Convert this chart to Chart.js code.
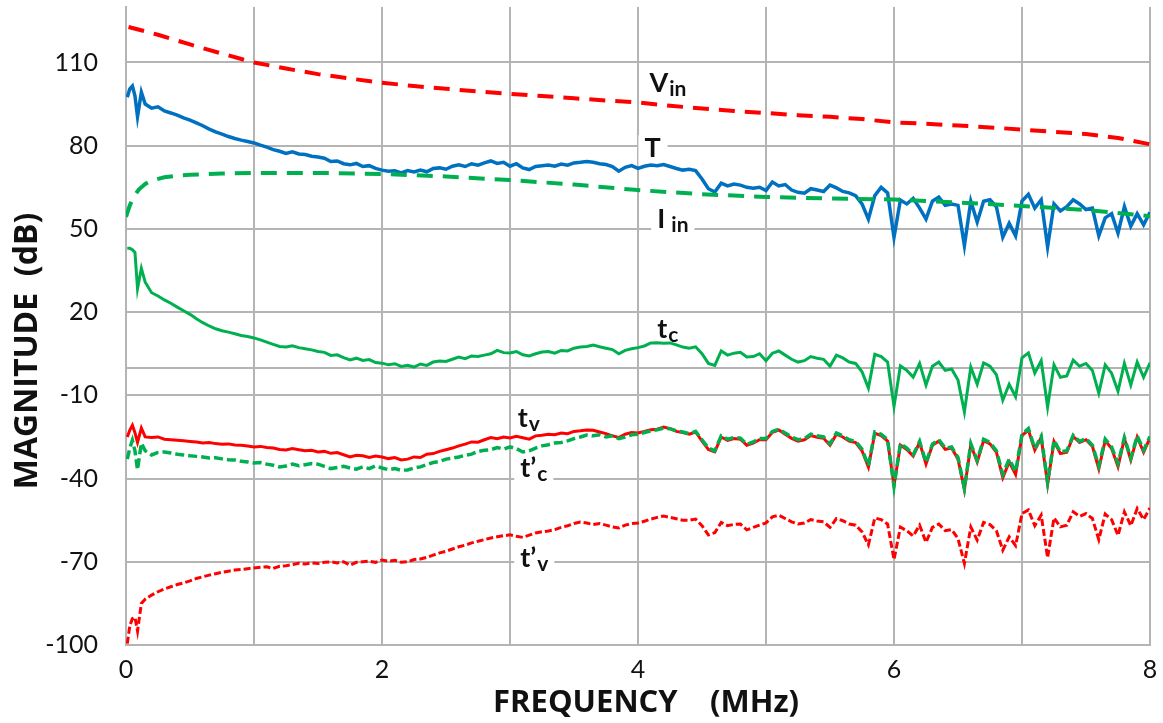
<!DOCTYPE html>
<html>
<head>
<meta charset="utf-8">
<script src="https://cdn.jsdelivr.net/npm/chart.js@4.4.1/dist/chart.umd.min.js"></script>
<style>
  html, body { margin: 0; padding: 0; background: #fff; }
  #wrap { width: 1163px; height: 723px; }
</style>
</head>
<body>
<div id="wrap"><canvas id="chart"></canvas></div>
<script>
/* Transfer-function magnitudes vs frequency (MHz / dB) */

// frequency grid (MHz) for the measured traces
const freq = [
  0.01, 0.03, 0.05, 0.07, 0.09, 0.12, 0.15,
  0.20, 0.25, 0.30, 0.35, 0.40, 0.45, 0.50, 0.55, 0.60, 0.65, 0.70, 0.75, 0.80, 0.85, 0.90, 0.95,
  1.00, 1.05, 1.10, 1.15, 1.20, 1.25, 1.30, 1.35, 1.40, 1.45, 1.50, 1.55, 1.60, 1.65, 1.70, 1.75, 1.80, 1.85, 1.90, 1.95,
  2.00, 2.05, 2.10, 2.15, 2.20, 2.25, 2.30, 2.35, 2.40, 2.45, 2.50, 2.55, 2.60, 2.65, 2.70, 2.75, 2.80, 2.85, 2.90, 2.95,
  3.00, 3.05, 3.10, 3.15, 3.20, 3.25, 3.30, 3.35, 3.40, 3.45, 3.50, 3.55, 3.60, 3.65, 3.70, 3.75, 3.80, 3.85, 3.90, 3.95,
  4.00, 4.05, 4.10, 4.15, 4.20, 4.25, 4.30, 4.35, 4.40, 4.45, 4.50, 4.55, 4.60, 4.65, 4.70, 4.75, 4.80, 4.85, 4.90, 4.95,
  5.00, 5.05, 5.10, 5.15, 5.20, 5.25, 5.30, 5.35, 5.40, 5.45, 5.50, 5.55, 5.60, 5.65, 5.70, 5.75, 5.80, 5.85, 5.90, 5.95,
  6.00, 6.05, 6.10, 6.15, 6.20, 6.25, 6.30, 6.35, 6.40, 6.45, 6.50, 6.55, 6.60, 6.65, 6.70, 6.75, 6.80, 6.85, 6.90, 6.95,
  7.00, 7.05, 7.10, 7.15, 7.20, 7.25, 7.30, 7.35, 7.40, 7.45, 7.50, 7.55, 7.60, 7.65, 7.70, 7.75, 7.80, 7.85, 7.90, 7.95,
  8.00
];

const T = [
  97.5, 100.5, 101.5, 98.0, 90.5, 99.3, 95.0,
  93.5, 94.0, 92.5, 91.8, 91.0, 90.0, 89.2, 88.2, 87.2, 86.0, 85.0, 84.2, 83.3, 82.6, 82.0, 81.5,
  81.0, 80.2, 79.5, 78.6, 78.0, 77.2, 77.8, 77.0, 76.8, 76.2, 75.9, 75.5, 74.3, 74.5, 73.5, 73.1, 73.6, 72.5, 72.8, 71.8,
  71.2, 70.8, 71.0, 70.2, 71.0, 70.5, 71.2, 70.6, 71.8, 72.0, 71.5, 72.6, 73.1, 72.5, 73.5, 73.0, 73.8, 74.5, 73.6, 74.0,
  72.6, 73.5, 72.0, 71.4, 72.5, 72.8, 73.0, 72.6, 73.4, 73.0, 73.8, 74.0, 74.3, 74.0, 73.5, 73.2, 72.5, 70.8, 72.2, 72.8,
  71.8, 72.6, 73.0, 72.8, 73.2, 72.5, 71.8, 71.2, 71.5, 71.0, 68.0, 64.5, 63.3, 66.5, 65.5, 66.2, 65.8, 65.0, 64.7, 65.0,
  63.8, 66.9, 65.5, 66.0, 64.0, 63.2, 62.9, 64.5, 64.0, 63.5, 65.8, 64.8, 63.5, 63.0, 62.0, 59.0, 53.5, 62.0, 65.0, 63.0,
  47.0, 60.4, 59.0, 61.0, 57.5, 53.5, 60.0, 61.5, 58.5, 59.0, 58.5, 44.0, 60.0, 52.5, 60.0, 60.5, 58.0, 47.0, 52.0, 47.5,
  60.0, 62.5, 57.5, 60.5, 43.5, 59.0, 56.5, 58.0, 60.5, 59.0, 57.0, 57.5, 47.5, 54.0, 55.5, 48.5, 58.0, 51.0, 55.5, 51.5,
  56.0
];

const tc = [
  43.0, 43.0, 42.5, 41.5, 28.5, 35.8, 30.8,
  27.0, 25.8, 24.4, 23.2, 21.8, 20.5, 19.2, 17.6, 16.2, 15.0, 14.0, 13.3, 12.8, 12.2, 11.6, 11.2,
  10.7, 10.0, 9.2, 8.4, 7.6, 7.4, 7.9, 7.2, 6.8, 6.4, 5.8, 5.5, 4.4, 4.6, 3.6, 2.8, 3.4, 2.6, 2.9, 1.8,
  1.6, 1.0, 1.4, 0.4, 0.8, 0.2, 1.3, 0.8, 2.0, 2.4, 2.2, 3.0, 3.8, 3.2, 4.2, 4.0, 4.5, 5.0, 6.2, 5.4,
  5.3, 5.8, 4.6, 4.2, 5.0, 5.6, 5.8, 5.2, 6.2, 6.0, 7.0, 7.4, 7.6, 8.1, 7.5, 7.0, 6.5, 5.0, 6.2, 6.8,
  7.2, 7.8, 8.9, 9.0, 8.8, 8.9, 8.2, 7.4, 7.0, 7.5, 5.0, 1.5, 0.8, 6.0, 4.5, 5.2, 5.5, 3.8, 4.0, 5.0,
  2.5, 5.2, 6.0, 4.5, 3.0, 2.0, 2.5, 4.0, 3.4, 3.0, 0.5, 4.5, 3.5, 2.0, 1.5, -1.5, -7.4, 4.8, 4.0, 2.0,
  -14.0, 0.6, -1.0, -3.4, 1.5, -6.3, 0.5, 2.0, -1.0, -0.5, -4.5, -16.0, 0.2, -6.0, 1.7, 0.5, -2.5, -11.7, -6.0, -10.5,
  3.5, 5.3, -2.0, 2.5, -14.2, 1.0, -3.5, -3.0, 2.7, 0.5, 1.5, -1.0, -9.2, 1.0, -2.0, -8.5, 1.5, -6.3, 2.0, -3.5,
  1.7
];

const tv = [
  -25.0, -22.5, -20.8, -23.5, -27.0, -21.8, -25.0,
  -25.2, -25.0, -25.8, -26.0, -26.2, -26.4, -26.6, -26.8, -27.2, -27.0, -27.4, -27.6, -27.5, -27.9, -28.0, -28.3,
  -28.6, -28.4, -28.8, -29.0, -29.5, -29.7, -29.2, -29.6, -30.0, -29.8, -30.4, -30.2, -30.9, -30.6, -31.4, -32.2, -31.6, -31.8, -32.4, -31.9,
  -32.2, -32.8, -32.4, -33.3, -33.0, -32.2, -32.4, -31.2, -31.0, -30.2, -29.6, -29.0, -28.2, -27.6, -26.8, -26.9, -26.0, -25.2, -25.6, -25.0,
  -25.4, -24.8, -25.3, -25.8, -24.6, -24.4, -24.0, -24.2, -23.6, -23.8, -23.0, -22.8, -22.5, -22.6, -23.2, -23.8, -24.6, -25.2, -24.0, -23.4,
  -23.6, -23.0, -22.4, -22.2, -21.4, -22.0, -23.0, -23.4, -24.0, -23.2, -26.5, -29.5, -30.4, -25.0, -26.2, -25.6, -25.8, -28.0, -27.2, -26.0,
  -26.0, -23.3, -22.5, -24.0, -25.5, -26.5, -26.0, -24.5, -25.1, -25.5, -28.0, -24.0, -25.0, -26.5, -27.0, -30.0, -35.9, -23.7, -24.5, -26.5,
  -42.5, -27.9, -29.5, -31.9, -27.0, -34.8, -28.0, -26.5, -29.5, -29.0, -33.0, -44.0, -27.8, -34.0, -26.3, -27.5, -30.5, -39.7, -34.0, -38.5,
  -24.5, -22.5, -29.7, -25.2, -42.0, -26.6, -31.0, -30.5, -24.8, -27.0, -26.0, -28.4, -36.5, -26.3, -29.2, -35.7, -25.6, -33.3, -25.0, -30.5,
  -25.3
];

const tcPrime = [
  -33.0, -29.0, -26.2, -30.0, -36.8, -27.2, -30.0,
  -31.5, -30.6, -30.4, -30.8, -31.2, -31.5, -31.8, -32.0, -32.2, -32.6, -32.5, -32.9, -33.2, -33.3, -33.8, -34.0,
  -34.4, -34.2, -34.8, -35.2, -35.8, -35.5, -34.8, -35.4, -35.0, -34.6, -34.8, -35.6, -36.4, -36.0, -35.6, -36.2, -36.6, -35.8, -36.4, -35.4,
  -36.2, -36.8, -36.4, -37.0, -36.9, -36.2, -35.8, -35.0, -34.2, -33.8, -33.0, -32.6, -32.2, -31.6, -31.2, -30.2, -29.8, -29.6, -28.8, -29.4,
  -28.6, -29.2, -30.4, -30.0, -29.0, -28.2, -27.8, -27.2, -27.0, -26.4, -25.6, -25.0, -24.3, -24.6, -24.2, -25.0, -24.6, -25.6, -25.0, -24.2,
  -24.0, -23.4, -22.8, -22.4, -21.8, -22.0, -22.8, -23.2, -23.8, -23.0, -26.0, -29.0, -30.0, -24.6, -25.8, -25.2, -25.4, -27.6, -26.8, -25.6,
  -25.6, -23.0, -22.2, -23.6, -25.0, -26.0, -25.6, -24.0, -24.6, -25.0, -27.5, -23.6, -24.6, -26.0, -26.6, -29.4, -35.4, -23.2, -24.0, -26.0,
  -42.8, -27.4, -29.0, -31.4, -26.6, -34.2, -27.6, -26.0, -29.0, -28.6, -32.4, -43.5, -27.4, -33.4, -25.8, -27.0, -30.0, -38.5, -33.0, -37.5,
  -24.0, -22.0, -29.2, -24.8, -41.2, -26.2, -30.4, -30.0, -24.4, -26.6, -25.6, -28.0, -35.4, -25.8, -28.6, -34.6, -25.2, -32.6, -24.6, -29.8,
  -24.8
];

const tvPrime = [
  -99.5, -93.0, -90.5, -90.0, -95.0, -85.0, -83.5,
  -82.0, -80.8, -79.8, -79.0, -78.2, -77.6, -76.9, -76.0, -75.4, -74.8, -74.3, -73.8, -73.4, -73.0, -72.8, -72.5,
  -72.2, -72.0, -71.8, -72.4, -71.6, -71.4, -71.0, -70.5, -70.8, -70.4, -70.6, -70.2, -70.0, -70.4, -70.0, -71.2, -70.2, -70.0, -69.8, -70.2,
  -69.4, -69.8, -69.5, -70.2, -70.0, -69.2, -69.0, -68.4, -67.6, -66.8, -66.2, -65.4, -64.6, -64.0, -63.2, -62.6, -62.0, -61.4, -61.0, -60.6,
  -60.3, -60.8, -61.2, -60.4, -59.6, -59.2, -58.9, -58.4, -57.6, -57.0, -56.2, -55.7, -56.0, -56.6, -56.2, -56.8, -57.4, -57.8, -56.8, -56.2,
  -56.0, -55.4, -54.6, -54.0, -53.5, -54.0, -54.5, -55.0, -55.0, -54.6, -57.0, -60.3, -59.5, -55.8, -57.0, -56.5, -56.4, -58.5, -57.6, -56.8,
  -56.0, -53.8, -53.2, -54.4, -55.6, -56.4, -56.0, -54.8, -55.3, -55.6, -57.6, -54.4, -55.2, -56.4, -56.8, -59.2, -63.9, -54.2, -54.8, -56.4,
  -69.2, -57.5, -58.8, -60.7, -56.8, -63.0, -57.6, -56.4, -58.8, -58.4, -61.6, -70.6, -57.5, -62.2, -55.8, -56.6, -58.8, -65.8, -61.0, -64.2,
  -52.6, -51.3, -57.0, -53.2, -68.5, -54.2, -57.4, -56.8, -52.0, -53.6, -52.6, -54.4, -62.0, -52.8, -54.8, -60.5, -52.0, -57.0, -50.8, -54.8,
  -50.6
];

// smooth input traces on their own coarser grids
const vinFreq = [0.02, 0.25, 0.5, 0.75, 1, 1.25, 1.5, 1.75, 2, 2.25, 2.5, 2.75, 3, 3.25, 3.5, 3.75, 4,
                 4.25, 4.5, 4.75, 5, 5.25, 5.5, 5.75, 6, 6.25, 6.5, 6.75, 7, 7.25, 7.5, 7.75, 8];
const Vin = [122.8, 120.0, 116.5, 113.2, 110.0, 107.8, 105.8, 104.2, 102.7, 101.5, 100.5, 99.6, 98.7, 97.9, 97.1, 96.3, 95.6,
             94.4, 93.4, 92.5, 91.8, 91.0, 90.4, 89.6, 88.4, 87.9, 87.3, 86.6, 85.8, 85.0, 84.2, 82.8, 80.5];

const iinFreq = [0.0, 0.03, 0.06, 0.1, 0.15, 0.2, 0.3, 0.4, 0.5, 0.75, 1, 1.5, 2, 2.5, 3, 3.5, 4, 4.5, 5, 5.5, 6, 6.5, 7, 7.5, 8];
const Iin = [54.3, 58.5, 61.5, 64.2, 66.2, 67.4, 68.6, 69.2, 69.5, 70.0, 70.2, 70.2, 69.8, 68.9, 67.6, 66.0, 64.0, 62.5, 61.5, 61.0, 60.6, 59.5, 58.3, 56.8, 54.6];

const yTicks = [-100, -70, -40, -10, 20, 50, 80, 110];
const yExtraGrid = [0];
const xTickLabels = [0, 2, 4, 6, 8];

// curve names placed next to the traces (MHz, dB)
const TAGS = [
  { main: 'V',      sub: 'in',  f: 4.09, db: 99.3 },
  { main: 'T',      sub: '',    f: 4.05, db: 75.9 },
  { main: 'I',      sub: ' in', f: 4.15, db: 50.3 },
  { main: 't',      sub: 'c',   f: 4.15, db: 10.7 },
  { main: 't',      sub: 'v',   f: 3.06, db: -21.4 },
  { main: 't\u2019', sub: 'c',  f: 3.08, db: -39.4 },
  { main: 't\u2019', sub: 'v',  f: 3.08, db: -71.9 }
];

const RED = '#ff0000', BLUE = '#0070c0', GREEN = '#00b050';
const GRID = '#b4b4b4';
const FONT = 'Lato';
const TITLE_FONT = 'Open Sans';

const pts = (xs, ys) => xs.map((x, i) => ({ x, y: ys[i] }));

const seriesTags = {
  id: 'seriesTags',
  beforeDatasetsDraw(chart) {
    const { ctx, scales: { x, y } } = chart;
    ctx.save();
    ctx.textBaseline = 'alphabetic';
    TAGS.forEach(t => {
      const px = x.getPixelForValue(t.f);
      const py = y.getPixelForValue(t.db);
      ctx.font = `bold 27px ${FONT}`;
      const w1 = ctx.measureText(t.main).width;
      ctx.font = `bold 21px ${FONT}`;
      const w2 = t.sub ? ctx.measureText(t.sub).width : 0;
      ctx.fillStyle = '#fff';
      ctx.fillRect(px - 6, py - 22, w1 + w2 + 13, 32);
      ctx.fillStyle = '#111';
      ctx.font = `bold 27px ${FONT}`;
      ctx.fillText(t.main, px, py);
      if (t.sub) {
        ctx.font = `bold 21px ${FONT}`;
        ctx.fillText(t.sub, px + w1 + 1, py + 4);
      }
    });
    ctx.restore();
  }
};

const line = (label, data, color, width, dash) => ({
  label, data, borderColor: color, backgroundColor: color,
  borderWidth: width, borderDash: dash || [], pointRadius: 0,
  tension: 0, fill: false, borderCapStyle: 'butt'
});

new Chart(document.getElementById('chart'), {
  type: 'line',
  data: {
    datasets: [
      line('Vin', pts(vinFreq, Vin), RED, 4, [16, 10]),
      line('Iin', pts(iinFreq, Iin), GREEN, 4, [16, 10]),
      line('T', pts(freq, T), BLUE, 3.5),
      line('tc', pts(freq, tc), GREEN, 3),
      line("t'c", pts(freq, tcPrime), GREEN, 3.5, [9, 4]),
      line('tv', pts(freq, tv), RED, 3),
      line("t'v", pts(freq, tvPrime), RED, 3, [7, 3])
    ]
  },
  options: {
    responsive: true,
    maintainAspectRatio: false,
    devicePixelRatio: 1,
    animation: false,
    layout: { padding: { top: 7, right: 13, left: 0, bottom: 0 } },
    plugins: { legend: { display: false }, tooltip: { enabled: false } },
    scales: {
      x: {
        type: 'linear', min: 0, max: 8,
        afterFit: s => { s.height = 78; s.paddingLeft = 0; s.paddingRight = 0; },
        grid: { color: GRID, lineWidth: 2, drawTicks: false },
        border: { color: GRID, width: 2 },
        ticks: {
          stepSize: 1, padding: 10, color: '#111',
          font: { family: FONT, size: 25 },
          callback: v => xTickLabels.includes(v) ? String(v) : ''
        },
        title: {
          display: true, text: '  FREQUENCY    (MHz)', color: '#111',
          font: { family: TITLE_FONT, size: 31, weight: 'bold' },
          padding: { top: 0, bottom: 1 }
        }
      },
      y: {
        type: 'linear', min: -100, max: 130,
        afterFit: s => { s.width = 126; s.paddingTop = 0; s.paddingBottom = 0; },
        afterBuildTicks: s => {
          s.ticks = [...yTicks, ...yExtraGrid].sort((a, b) => a - b).map(v => ({ value: v }));
        },
        grid: { color: GRID, lineWidth: 2, drawTicks: false },
        border: { color: GRID, width: 2 },
        ticks: {
          padding: 28, color: '#111',
          font: { family: FONT, size: 25 },
          callback: v => yTicks.includes(v) ? String(v) : ''
        },
        title: {
          display: true, text: 'MAGNITUDE  (dB)      ', color: '#111',
          font: { family: TITLE_FONT, size: 32, weight: 'bold' },
          padding: { top: 9, bottom: 0 }
        }
      }
    }
  },
  plugins: [seriesTags]
});
</script>
</body>
</html>
